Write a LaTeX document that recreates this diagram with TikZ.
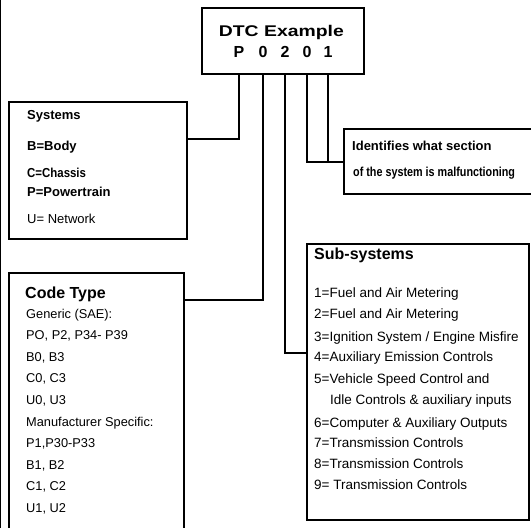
\documentclass[tikz,border=0pt]{standalone}
\usepackage{fontspec}
\setmainfont{Liberation Sans}
\usetikzlibrary{positioning}

\begin{document}
\begin{tikzpicture}[x=1pt,y=-1pt,
  box/.style={draw,line width=2.4pt,rectangle,anchor=north west,inner sep=0pt},
  link/.style={line width=1.7pt},
  head/.style={anchor=base west,inner sep=0pt,font=\fontsize{16}{18}\selectfont\bfseries},
  bold/.style={anchor=base west,inner sep=0pt,font=\fontsize{13}{15}\selectfont\bfseries},
  item/.style={anchor=base west,inner sep=0pt,font=\fontsize{13.5}{16}\selectfont},
  digit/.style={anchor=base,inner sep=0pt,font=\fontsize{16}{18}\selectfont\bfseries}]

\useasboundingbox (0,0) rectangle (531,528);
\clip (0,0) rectangle (531,528);

% --- bordo sinistro ---
\draw[line width=1.4pt] (0.7,0) -- (0.7,528);

% --- riquadri ---
\node[box,minimum width=162pt,minimum height=66pt] (dtc) at (201,7) {};
\node[box,minimum width=178pt,minimum height=137pt] (sys) at (8,101) {};
\node[box,minimum width=175pt,minimum height=280pt] (code) at (8,272) {};
\node[box,minimum width=200pt,minimum height=65pt] (ident) at (343,128) {};
\node[box,minimum width=222pt,minimum height=276pt] (sub) at (306,243) {};

% --- codice DTC ---
\node[head,anchor=base east,font=\fontsize{15.5}{18}\selectfont\bfseries] (dtcT) at (344,36)
  {\scalebox{1.25}[1]{DTC Example}};
\node[digit] (dgP) at (239,57) {P};
\node[digit] (dg1) at (263,57) {0};
\node[digit] (dg2) at (285,57) {2};
\node[digit] (dg3) at (307,57) {0};
\node[digit] (dg4) at (328,57) {1};

% --- Systems ---
\node[bold] (sysT) at (27,119) {Systems};
\node[bold] (sysB) at (27,150) {B=Body};
\node[bold] (sysC) at (27,177) {\scalebox{0.88}[1]{C=Chassis}};
\node[bold] (sysP) at (27,196) {P=Powertrain};
\node[item,font=\fontsize{13}{15}\selectfont] (sysU) at (27,223) {U= Network};

% --- Code Type ---
\node[head] (codeT) at (25,298) {Code Type};
\foreach \t [count=\i from 0] in {{Generic (SAE):},{PO, P2, P34- P39},{B0, B3},{C0, C3},{U0, U3},
    {Manufacturer Specific:},{P1,P30-P33},{B1, B2},{C1, C2},{U1, U2}}
  \node[item,font=\fontsize{12.8}{15}\selectfont] (code\i) at (26,318+21.6*\i) {\t};

% --- Sub-systems ---
\node[head] (subT) at (314,259) {Sub-systems};
\foreach \x/\y/\t [count=\i] in {314/297/{1=Fuel and Air Metering},314/318/{2=Fuel and Air Metering},
    314/341/{3=Ignition System / Engine Misfire},314/361/{4=Auxiliary Emission Controls},
    314/383/{5=Vehicle Speed Control and},330/404/{Idle Controls \& auxiliary inputs},
    314/427/{6=Computer \& Auxiliary Outputs},314/447/{7=Transmission Controls},
    314/468/{8=Transmission Controls},314/489/{9= Transmission Controls}}
  \node[item] (sub\i) at (\x,\y) {\t};

% --- sezione ---
\node[bold] (identA) at (352,150) {Identifies what section};
\node[bold] (identB) at (353,176) {\scalebox{0.83}[1]{of the system is malfunctioning}};

% --- collegamenti ---
\coordinate (sysIn) at ([yshift=-38pt]sys.north east);
\coordinate (codeIn) at ([yshift=-28pt]code.north east);
\coordinate (subIn) at ([yshift=-110pt]sub.north west);
\coordinate (identIn) at ([yshift=-34pt]ident.north west);
\draw[link] (dgP |- dtc.south) |- (sysIn);
\draw[link] (dg1 |- dtc.south) |- (codeIn);
\draw[link] (dg2 |- dtc.south) |- (subIn);
\draw[link] (dg3 |- dtc.south) |- (identIn);
\draw[link] (dg4 |- dtc.south) -- (dg4 |- identIn);

\end{tikzpicture}
\end{document}
